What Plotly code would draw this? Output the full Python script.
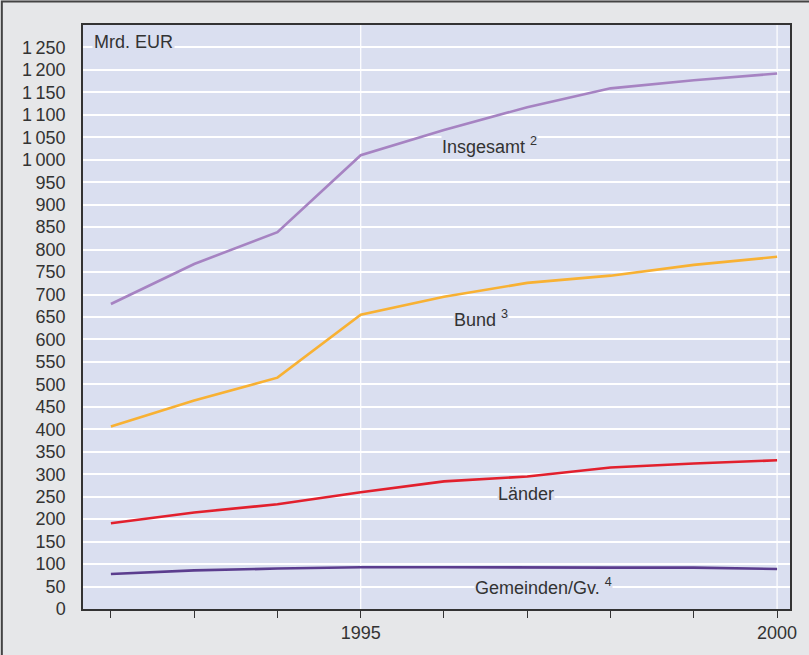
import plotly.graph_objects as go

years = [1992, 1993, 1994, 1995, 1996, 1997, 1998, 1999, 2000]
insgesamt = [679, 768, 839, 1010, 1066, 1117, 1159, 1177, 1192]
bund = [406, 464, 515, 655, 695, 726, 742, 766, 784]
laender = [191, 215, 233, 260, 284, 295, 315, 324, 331]
gemeinden = [78, 86, 90, 93, 93, 92, 92, 92, 89]

y_ticks = list(range(0, 1300, 50))
y_ticktext = [f"{v:,}".replace(",", "\u2009") if v >= 1000 else str(v) for v in y_ticks]
x_labeled = [1995, 2000]
grid_years = [1995, 2000]

series = [
    ("Insgesamt", insgesamt, "#a683c2"),
    ("Bund", bund, "#f8b133"),
    ("Länder", laender, "#e2202d"),
    ("Gemeinden/Gv.", gemeinden, "#5b3d8e"),
]

labels = [
    ("Insgesamt <sup>2</sup>", 1996.55, 1032),
    ("Bund <sup>3</sup>", 1996.45, 646),
    ("Länder", 1996.98, 257),
    ("Gemeinden/Gv. <sup>4</sup>", 1997.2, 51),
]

plot_bg = "#dadff0"
font_family = "Liberation Sans, Arial, sans-serif"

fig = go.Figure()
for name, vals, col in series:
    fig.add_trace(go.Scatter(x=years, y=vals, mode="lines", name=name,
                             line=dict(color=col, width=2.6), showlegend=False,
                             hoverinfo="skip"))

for gx in grid_years:
    fig.add_shape(type="line", xref="x", yref="paper", x0=gx, x1=gx, y0=0, y1=1,
                  line=dict(color="white", width=1.2), layer="below")

for text, x, y in labels:
    fig.add_annotation(x=x, y=y, xref="x", yref="y", text=text, showarrow=False,
                       bgcolor=plot_bg, borderpad=0,
                       font=dict(size=18, color="#333333", family=font_family))

fig.add_annotation(x=1991.77, y=1262, xref="x", yref="y", text="Mrd. EUR", showarrow=False,
                   xanchor="left", bgcolor=plot_bg, borderpad=1,
                   font=dict(size=18, color="#333333", family=font_family))

# outer frame (left and top edges visible)
fig.add_shape(type="rect", xref="paper", yref="paper", x0=-0.1148, x1=1.2, y0=-0.3, y1=1.0402,
              line=dict(color="#444444", width=2), fillcolor="rgba(0,0,0,0)", layer="below")

fig.update_layout(
    width=809, height=655,
    margin=dict(l=83, r=16, t=25, b=45),
    paper_bgcolor="#e6e7e9",
    plot_bgcolor=plot_bg,
    font=dict(family=font_family, size=18, color="#333333"),
    hovermode=False,
)
fig.update_xaxes(range=[1991.665, 2000.155], tickvals=x_labeled,
                 ticks="outside", ticklen=7, tickcolor="#333333", tickwidth=1.2,
                 minor=dict(ticks="outside", tick0=1992, dtick=1, ticklen=7,
                            tickcolor="#333333", tickwidth=1.2, showgrid=False),
                 showgrid=False, zeroline=False, showline=True, linecolor="#333333",
                 linewidth=1.5, mirror=True, tickfont=dict(size=18))
fig.update_yaxes(range=[0, 1300], tickvals=y_ticks, ticktext=y_ticktext,
                 ticks="outside", ticklen=12, tickcolor="rgba(0,0,0,0)",
                 showgrid=True, gridcolor="white", gridwidth=1.5, zeroline=False,
                 showline=True, linecolor="#333333", linewidth=1.5, mirror=True,
                 tickfont=dict(size=18))

fig.write_html("out.html", config={"displayModeBar": False},
               post_script="document.body.style.margin='0';")
